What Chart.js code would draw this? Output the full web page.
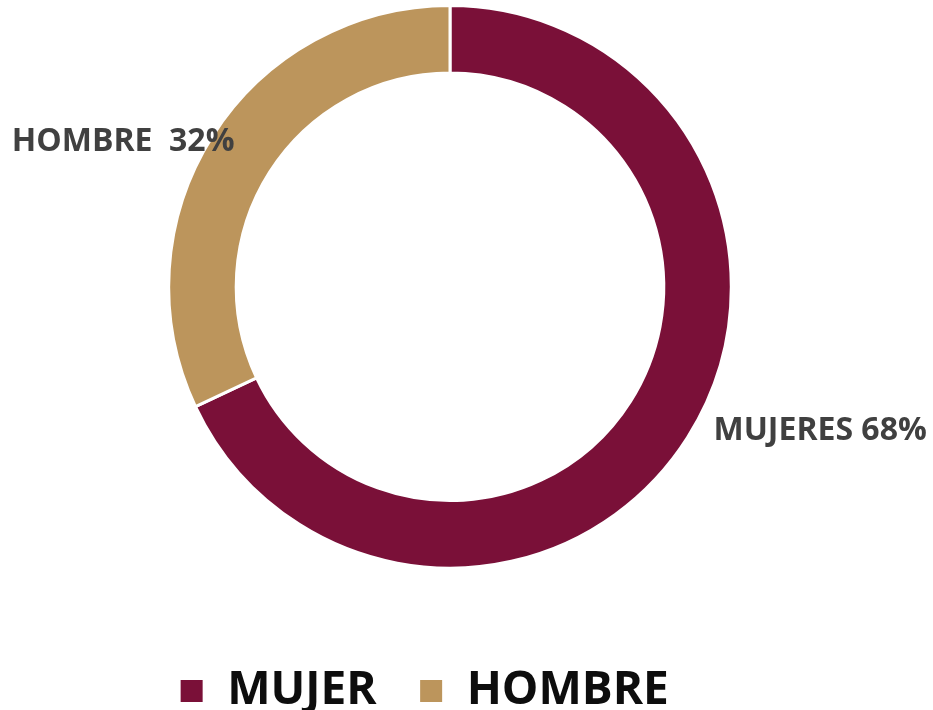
<!DOCTYPE html>
<html>
<head>
<meta charset="utf-8">
<script src="https://cdn.jsdelivr.net/npm/chart.js@4/dist/chart.umd.min.js"></script>
<style>
  html, body { margin: 0; padding: 0; background: #ffffff; }
  #wrap { width: 933px; height: 710px; position: relative; }
</style>
</head>
<body>
<div id="wrap"><canvas id="chart"></canvas></div>
<script>
const categories = ["MUJER", "HOMBRE"];
const values = [68, 32];
const labelNames = ["MUJERES", "HOMBRE "];
const colors = ["#7a1038", "#bc955c"];

// draws the "NAME xx%" text outside each slice
const sliceLabels = {
    id: "sliceLabels",
    afterLayout(chart) {
        // legend sits a bit left of the ring in the original
        chart.legend.left -= 26;
        chart.legend.right -= 26;
    },
    afterDatasetsDraw(chart) {
        const ctx = chart.ctx;
        const meta = chart.getDatasetMeta(0);
        const total = values.reduce((a, b) => a + b, 0);
        ctx.save();
        ctx.font = "bold 32px 'Open Sans'";
        ctx.fillStyle = "#404040";
        ctx.textBaseline = "middle";
        meta.data.forEach((arc, i) => {
            const mid = (arc.startAngle + arc.endAngle) / 2;
            const x = arc.x + Math.cos(mid) * arc.outerRadius;
            const y = arc.y + Math.sin(mid) * arc.outerRadius;
            const text = labelNames[i] + " " + Math.round(values[i] / total * 100) + "%";
            if (Math.cos(mid) >= 0) {
                ctx.textAlign = "left";
                ctx.fillText(text, x + 26, y - 7);
            } else {
                ctx.textAlign = "right";
                ctx.fillText(text, x + 22, y + 6);
            }
        });
        ctx.restore();
    }
};

new Chart(document.getElementById("chart"), {
    type: "doughnut",
    data: {
        labels: categories,
        datasets: [{
            data: values,
            backgroundColor: colors,
            borderColor: "#ffffff",
            borderWidth: 3
        }]
    },
    options: {
        responsive: true,
        maintainAspectRatio: false,
        animation: false,
        cutout: "76%",
        layout: { padding: { top: 4, left: 0, right: 33, bottom: -14 } },
        plugins: {
            tooltip: { enabled: false },
            legend: {
                position: "bottom",
                title: { display: true, text: "", padding: { top: 21, bottom: 21 } },
                labels: {
                    color: "#0d0d0d",
                    font: { family: "Open Sans", size: 46, weight: "bold" },
                    boxWidth: 25,
                    boxHeight: 25,
                    padding: 42
                }
            }
        }
    },
    plugins: [sliceLabels]
});
</script>
</body>
</html>
